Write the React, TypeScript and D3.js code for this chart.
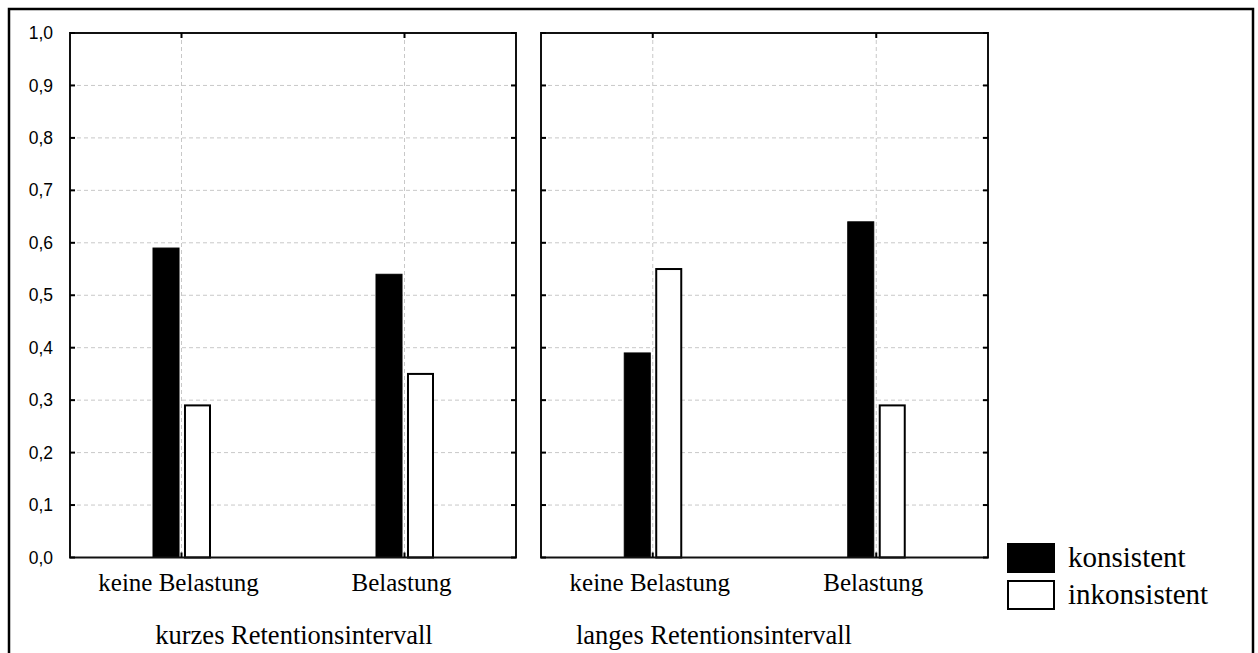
import React from "react";
import * as d3 from "d3";

const panels = ["kurzes Retentionsintervall", "langes Retentionsintervall"];
const categories = ["keine Belastung", "Belastung"];
const seriesNames = ["konsistent", "inkonsistent"];
// values[panel][category]
const konsistent = [
  [0.59, 0.54],
  [0.39, 0.64],
];
const inkonsistent = [
  [0.29, 0.35],
  [0.55, 0.29],
];
const yTicks = [0, 0.1, 0.2, 0.3, 0.4, 0.5, 0.6, 0.7, 0.8, 0.9, 1.0];

const W = 1258;
const H = 653;
const panelX: [number, number][] = [
  [70, 516],
  [541, 988],
];
const top = 33;
const bottom = 557.5;
const groupLabelX = [294, 714];

export default function App() {
  const y = d3.scaleLinear().domain([0, 1]).range([bottom, top]);
  const fmt = (v: number) => d3.format(".1f")(v).replace(".", ",");
  const seriesColors = ["#000000", "#ffffff"];
  const serif = "'Liberation Serif', 'Times New Roman', serif";

  return (
    <svg
      width={W}
      height={H}
      style={{ position: "absolute", left: 0, top: 0, background: "#fff" }}
    >
      <rect x={9} y={9} width={1244} height={700} fill="#fff" stroke="#000" strokeWidth={2.5} />
      {panels.map((pName, pi) => {
        const [x0, x1] = panelX[pi];
        const xc = d3.scaleBand().domain(categories).range([x0, x1]).padding(0);
        return (
          <g key={pName}>
            {yTicks.slice(1, -1).map((t) => (
              <line
                key={t}
                x1={x0}
                x2={x1}
                y1={y(t)}
                y2={y(t)}
                stroke="#c8c8c8"
                strokeDasharray="4,3"
                strokeWidth={1}
              />
            ))}
            {categories.map((c) => {
              const cx = (xc(c) as number) + xc.bandwidth() / 2;
              return (
                <line
                  key={c}
                  x1={cx}
                  x2={cx}
                  y1={top}
                  y2={bottom}
                  stroke="#c8c8c8"
                  strokeDasharray="4,3"
                  strokeWidth={1}
                />
              );
            })}
            {categories.map((c, ci) => {
              const cx = (xc(c) as number) + xc.bandwidth() / 2;
              const xs = d3
                .scaleBand()
                .domain(seriesNames)
                .range([cx - 28.5, cx + 28.5])
                .paddingInner(0.16);
              const vals = [konsistent[pi][ci], inkonsistent[pi][ci]];
              return seriesNames.map((s, si) => {
                const bx = xs(s) as number;
                const bw = xs.bandwidth();
                return (
                  <rect
                    key={c + s}
                    x={bx + (si === 1 ? 1 : 0)}
                    y={y(vals[si])}
                    width={bw - (si === 1 ? 1 : 0)}
                    height={y(0) - y(vals[si])}
                    fill={seriesColors[si]}
                    stroke="#000"
                    strokeWidth={si === 1 ? 2 : 1}
                  />
                );
              });
            })}
            <rect x={x0} y={top} width={x1 - x0} height={bottom - top} fill="none" stroke="#111" strokeWidth={2} />
            {yTicks.map((t) => (
              <g key={t}>
                <line x1={x0} x2={x0 + 5} y1={y(t)} y2={y(t)} stroke="#000" strokeWidth={2} />
                <line x1={x1 - 5} x2={x1} y1={y(t)} y2={y(t)} stroke="#000" strokeWidth={2} />
              </g>
            ))}
            {categories.map((c) => {
              const cx = (xc(c) as number) + xc.bandwidth() / 2;
              return (
                <g key={c}>
                  <line x1={cx} x2={cx} y1={top} y2={top + 5} stroke="#000" strokeWidth={2} />
                  <line x1={cx} x2={cx} y1={bottom - 5} y2={bottom} stroke="#000" strokeWidth={2} />
                  <text x={cx - 3} y={591} textAnchor="middle" fontFamily={serif} fontSize={25} fill="#000">
                    {c}
                  </text>
                </g>
              );
            })}
            <text x={groupLabelX[pi]} y={644} textAnchor="middle" fontFamily={serif} fontSize={26.5} fill="#000">
              {pName}
            </text>
          </g>
        );
      })}
      {yTicks.map((t) => (
        <text
          key={t}
          x={53}
          y={y(t)}
          dy="0.35em"
          textAnchor="end"
          fontFamily="'Liberation Sans', Arial, sans-serif"
          fontSize={17.5}
          fill="#000"
        >
          {fmt(t)}
        </text>
      ))}
      {seriesNames.map((s, si) => (
        <g key={s}>
          <rect
            x={1008}
            y={544 + si * 37}
            width={46}
            height={28}
            fill={seriesColors[si]}
            stroke="#000"
            strokeWidth={2}
          />
          <text x={1068} y={567 + si * 37} fontFamily={serif} fontSize={29} fill="#000">
            {s}
          </text>
        </g>
      ))}
    </svg>
  );
}
